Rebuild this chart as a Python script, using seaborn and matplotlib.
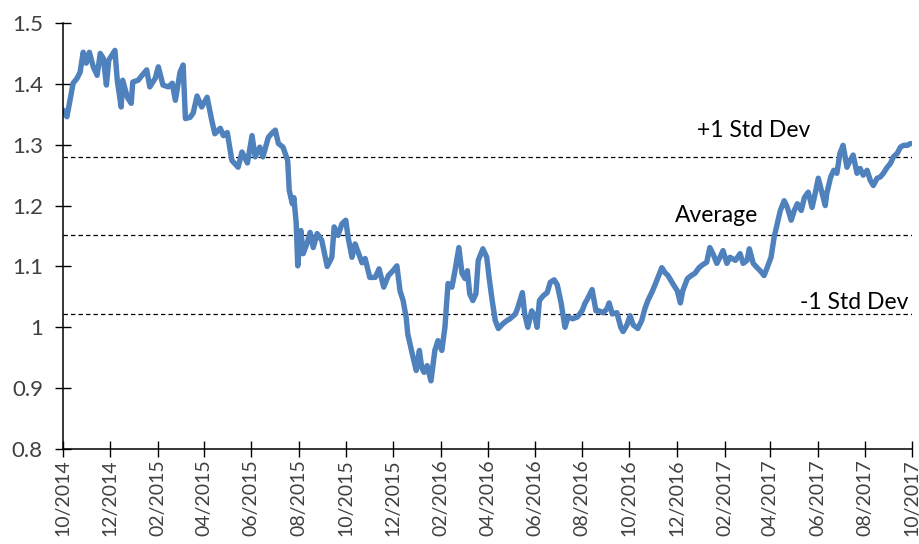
import matplotlib
matplotlib.use("Agg")
import matplotlib.pyplot as plt
import numpy as np
import pandas as pd
import seaborn as sns

# Ratio series: day offsets from the start date and the ratio on that day
start_date = "2014-10-01"
day_offsets = [
    0, 5, 9, 13, 18, 22, 26, 30, 34, 39, 44, 48, 52, 56, 59, 67, 70, 75, 77, 83,
    88, 90, 97, 102, 108, 112, 119, 123, 129, 136, 141, 145, 151, 155, 158, 164, 168, 173, 179, 186,
    192, 196, 203, 207, 212, 218, 226, 231, 238, 244, 248, 254, 258, 265, 269, 274, 278, 284, 290, 292,
    296, 298, 301, 303, 307, 310, 315, 319, 323, 328, 334, 341, 347, 350, 355, 360, 365, 368, 373, 377,
    381, 386, 390, 396, 403, 408, 414, 420, 426, 431, 435, 439, 443, 445, 452, 456, 460, 463, 466, 470,
    475, 480, 484, 489, 493, 497, 502, 506, 511, 515, 519, 522, 525, 529, 533, 536, 542, 547, 550, 554,
    558, 562, 568, 573, 577, 584, 587, 593, 596, 600, 605, 609, 612, 615, 620, 625, 629, 634, 638, 643,
    648, 652, 658, 664, 670, 674, 676, 683, 688, 692, 697, 702, 705, 709, 715, 720, 723, 728, 732, 736,
    742, 747, 751, 755, 760, 764, 768, 773, 777, 781, 788, 793, 797, 800, 806, 811, 816, 821, 826, 831,
    835, 839, 844, 848, 852, 857, 861, 868, 874, 878, 883, 886, 891, 896, 900, 905, 909, 914, 918, 922,
    926, 931, 935, 940, 944, 948, 953, 957, 962, 967, 971, 975, 980, 984, 986, 991, 995, 999, 1003, 1007,
    1012, 1016, 1020, 1025, 1029, 1033, 1038, 1042, 1046, 1051, 1055, 1059, 1064, 1068, 1072, 1077, 1081, 1085, 1090, 1094,
]
ratio = [
    1.357, 1.346, 1.373, 1.401, 1.409, 1.419, 1.452, 1.434, 1.452, 1.428, 1.414, 1.450, 1.442, 1.398, 1.439, 1.455, 1.406, 1.362, 1.406, 1.378,
    1.368, 1.403, 1.406, 1.414, 1.423, 1.395, 1.409, 1.428, 1.398, 1.395, 1.401, 1.373, 1.419, 1.431, 1.343, 1.345, 1.352, 1.380, 1.362, 1.378,
    1.340, 1.318, 1.327, 1.315, 1.320, 1.274, 1.263, 1.288, 1.270, 1.315, 1.280, 1.296, 1.280, 1.312, 1.318, 1.324, 1.302, 1.296, 1.274, 1.225,
    1.203, 1.213, 1.171, 1.101, 1.159, 1.121, 1.138, 1.156, 1.131, 1.154, 1.143, 1.100, 1.115, 1.165, 1.151, 1.170, 1.176, 1.148, 1.115, 1.137,
    1.123, 1.106, 1.113, 1.082, 1.082, 1.096, 1.066, 1.085, 1.093, 1.101, 1.060, 1.044, 1.016, 0.989, 0.950, 0.929, 0.962, 0.934, 0.926, 0.937,
    0.912, 0.962, 0.978, 0.962, 1.000, 1.072, 1.066, 1.093, 1.131, 1.089, 1.080, 1.093, 1.055, 1.044, 1.055, 1.110, 1.129, 1.115, 1.082, 1.044,
    1.011, 0.998, 1.006, 1.011, 1.014, 1.022, 1.032, 1.057, 1.022, 1.000, 1.027, 1.019, 1.000, 1.044, 1.052, 1.057, 1.074, 1.078, 1.070, 1.040,
    1.000, 1.017, 1.014, 1.017, 1.027, 1.040, 1.044, 1.062, 1.027, 1.027, 1.024, 1.030, 1.040, 1.022, 1.024, 1.000, 0.993, 1.004, 1.019, 1.004,
    0.998, 1.011, 1.030, 1.044, 1.057, 1.069, 1.082, 1.098, 1.090, 1.085, 1.070, 1.060, 1.040, 1.060, 1.080, 1.085, 1.089, 1.098, 1.103, 1.107,
    1.131, 1.121, 1.105, 1.115, 1.126, 1.105, 1.115, 1.110, 1.121, 1.105, 1.110, 1.129, 1.105, 1.098, 1.093, 1.085, 1.098, 1.115, 1.148, 1.170,
    1.192, 1.208, 1.197, 1.176, 1.192, 1.203, 1.192, 1.213, 1.222, 1.197, 1.220, 1.245, 1.220, 1.200, 1.220, 1.247, 1.258, 1.253, 1.286, 1.299,
    1.263, 1.274, 1.283, 1.253, 1.261, 1.250, 1.258, 1.242, 1.233, 1.245, 1.247, 1.253, 1.263, 1.269, 1.280, 1.286, 1.296, 1.299, 1.299, 1.302,
]

# Reference levels drawn as dashed lines
average = 1.151
std_dev = 0.1285
band_labels = ["+1 Std Dev", "Average", "-1 Std Dev"]
band_levels = [average + std_dev, average, average - std_dev]
label_dates = ["2016-12-27", "2016-11-29", "2017-05-09"]
label_values = [1.324, 1.183, 1.040]

y_ticks = [0.8, 0.9, 1.0, 1.1, 1.2, 1.3, 1.4, 1.5]
y_tick_labels = ["0.8", "0.9", "1", "1.1", "1.2", "1.3", "1.4", "1.5"]

df = pd.DataFrame({
    "date": pd.Timestamp(start_date) + pd.to_timedelta(day_offsets, unit="D"),
    "ratio": ratio,
})

sns.set_theme(style="ticks")
plt.rcParams["font.family"] = ["Lato", "DejaVu Sans"]

fig = plt.figure(figsize=(9.19, 5.44), dpi=100)
ax = fig.add_axes([0.0686, 0.1746, 0.9238, 0.7831])

sns.lineplot(data=df, x="date", y="ratio", ax=ax, color="#4f81bd",
             linewidth=3.9, solid_joinstyle="round", solid_capstyle="round")

for lvl in band_levels:
    ax.axhline(lvl, color="black", linewidth=0.9, linestyle=(0, (3.5, 2.5)), zorder=1)

for txt, d, v in zip(band_labels, label_dates, label_values):
    ax.text(pd.Timestamp(d), v, txt, ha="left", va="center", fontsize=16.5, color="black")

ax.set_xlim(pd.Timestamp("2014-10-01"), pd.Timestamp("2017-10-01"))
ax.set_ylim(0.8, 1.5)
ax.set_yticks(y_ticks)
ax.set_yticklabels(y_tick_labels)

x_ticks = pd.date_range("2014-10-01", "2017-10-01", freq="2MS")
ax.set_xticks(x_ticks)
ax.set_xticklabels([t.strftime("%m/%Y") for t in x_ticks], rotation=90)

ax.set_xlabel("")
ax.set_ylabel("")
for side in ["top", "right"]:
    ax.spines[side].set_visible(False)
for side in ["left", "bottom"]:
    ax.spines[side].set_color("black")
    ax.spines[side].set_linewidth(1.1)

ax.tick_params(axis="both", direction="inout", length=11, width=1.0, color="black",
               labelcolor="#404040")
ax.tick_params(axis="y", pad=9, labelsize=16)
ax.tick_params(axis="x", pad=2, labelsize=14)

fig.savefig("out.png", dpi=100, facecolor="white")
